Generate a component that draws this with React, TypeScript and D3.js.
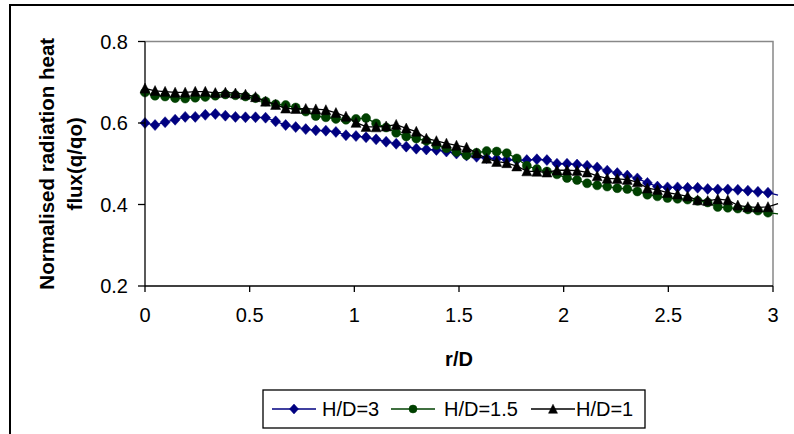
import React from 'react';
import * as d3 from 'd3';

const R_D = [0, 0.048, 0.096, 0.144, 0.192, 0.24, 0.288, 0.336, 0.384, 0.432, 0.48, 0.528, 0.576, 0.624, 0.672, 0.72, 0.768, 0.816, 0.864, 0.912, 0.96, 1.008, 1.056, 1.104, 1.152, 1.2, 1.248, 1.296, 1.344, 1.392, 1.44, 1.488, 1.536, 1.584, 1.632, 1.68, 1.728, 1.776, 1.824, 1.872, 1.92, 1.968, 2.016, 2.064, 2.112, 2.16, 2.208, 2.256, 2.304, 2.352, 2.4, 2.448, 2.496, 2.544, 2.592, 2.64, 2.688, 2.736, 2.784, 2.832, 2.88, 2.928, 2.976, 3.024];

const HD3 = [0.600, 0.595, 0.602, 0.608, 0.615, 0.615, 0.620, 0.622, 0.618, 0.615, 0.614, 0.614, 0.613, 0.604, 0.595, 0.590, 0.585, 0.582, 0.581, 0.578, 0.570, 0.568, 0.565, 0.560, 0.554, 0.549, 0.542, 0.537, 0.535, 0.534, 0.530, 0.525, 0.520, 0.517, 0.514, 0.512, 0.510, 0.509, 0.509, 0.511, 0.509, 0.500, 0.500, 0.498, 0.495, 0.491, 0.483, 0.477, 0.471, 0.464, 0.453, 0.444, 0.442, 0.442, 0.441, 0.441, 0.438, 0.437, 0.437, 0.436, 0.434, 0.431, 0.429, 0.423];

const HD15 = [0.675, 0.667, 0.665, 0.661, 0.660, 0.662, 0.664, 0.667, 0.670, 0.668, 0.665, 0.661, 0.653, 0.646, 0.644, 0.638, 0.628, 0.617, 0.614, 0.610, 0.608, 0.610, 0.612, 0.599, 0.589, 0.576, 0.567, 0.562, 0.556, 0.546, 0.538, 0.529, 0.521, 0.527, 0.531, 0.530, 0.526, 0.513, 0.495, 0.487, 0.481, 0.474, 0.465, 0.460, 0.452, 0.447, 0.444, 0.440, 0.438, 0.432, 0.424, 0.420, 0.416, 0.414, 0.412, 0.409, 0.405, 0.394, 0.392, 0.390, 0.388, 0.385, 0.380, 0.377];

const HD1 = [0.685, 0.679, 0.677, 0.675, 0.675, 0.677, 0.677, 0.674, 0.675, 0.673, 0.670, 0.664, 0.653, 0.645, 0.636, 0.635, 0.635, 0.634, 0.632, 0.625, 0.616, 0.601, 0.591, 0.590, 0.592, 0.596, 0.587, 0.579, 0.562, 0.556, 0.550, 0.545, 0.540, 0.526, 0.513, 0.505, 0.502, 0.494, 0.482, 0.481, 0.479, 0.484, 0.484, 0.483, 0.479, 0.470, 0.464, 0.463, 0.461, 0.455, 0.440, 0.436, 0.429, 0.425, 0.420, 0.411, 0.409, 0.413, 0.411, 0.398, 0.394, 0.393, 0.394, 0.402];

const X_TICKS = [0, 0.5, 1, 1.5, 2, 2.5, 3];
const Y_TICKS = [0.2, 0.4, 0.6, 0.8];
const SERIES_NAMES = ['H/D=3', 'H/D=1.5', 'H/D=1'];
const SERIES_COLORS = ['#000080', '#004000', '#000000'];
const SERIES_MARKERS = ['diamond', 'circle', 'triangle'];
const SERIES_VALUES = [HD3, HD15, HD1];

const FONT = 'Arial, "Liberation Sans", Helvetica, sans-serif';

function markerPath(kind: string, cx: number, cy: number, s: number): string {
  if (kind === 'diamond') {
    const w = s / 2, h = s / 2 + 0.5;
    return `M${cx},${cy - h}L${cx + w},${cy}L${cx},${cy + h}L${cx - w},${cy}Z`;
  }
  if (kind === 'triangle') {
    const w = s / 2, h = s * 0.95;
    return `M${cx},${cy - h / 2 - 0.5}L${cx + w},${cy + h / 2}L${cx - w},${cy + h / 2}Z`;
  }
  const r = s / 2 - 0.5;
  return `M${cx - r},${cy}A${r},${r} 0 1,0 ${cx + r},${cy}A${r},${r} 0 1,0 ${cx - r},${cy}Z`;
}

export default function App() {
  const W = 794, H = 434;
  const x = d3.scaleLinear().domain([0, 3]).range([145, 773]);
  const y = d3.scaleLinear().domain([0.2, 0.8]).range([286, 41.5]);
  const [x0, x1] = x.range();
  const [yb, yt] = y.range();

  const line = d3.line<number>()
    .x((_, i) => x(R_D[i]))
    .y((v) => y(v));

  const legendItems = [
    { sx: 272, tx: 322 },
    { sx: 391, tx: 444 },
    { sx: 531, tx: 576 },
  ];
  const ly = 409;

  return (
    <svg width={W} height={H} style={{ position: 'absolute', left: 0, top: 0, background: '#fff' }} fontFamily={FONT}>
      <rect x={0} y={0} width={W} height={H} fill="#fff" />
      <rect x={10} y={5} width={800} height={460} fill="none" stroke="#000" strokeWidth={2} />
      {/* plot area border */}
      <path d={`M${x0},${yt}H${x1}V${yb}`} fill="none" stroke="#888" strokeWidth={1.5} />
      {/* series */}
      {SERIES_VALUES.map((vals, si) => (
        <g key={si}>
          <path d={line(vals) || ''} fill="none" stroke={SERIES_COLORS[si]} strokeWidth={1.3} />
          {vals.map((v, i) => R_D[i] <= 3 ? (
            <path key={i} d={markerPath(SERIES_MARKERS[si], x(R_D[i]), y(v), 10)} fill={SERIES_COLORS[si]} stroke={SERIES_COLORS[si]} strokeWidth={0.5} />
          ) : null)}
        </g>
      ))}
      {/* axes */}
      <line x1={x0} x2={x0} y1={yt} y2={yb} stroke="#000" strokeWidth={1.3} />
      <line x1={x0} x2={x1} y1={yb} y2={yb} stroke="#000" strokeWidth={1.3} />
      {Y_TICKS.map((t) => (
        <g key={'y' + t}>
          <line x1={x0 - 7} x2={x0} y1={y(t)} y2={y(t)} stroke="#000" strokeWidth={1.3} />
          <text x={128} y={y(t)} dy="0.35em" textAnchor="end" fontSize={20} fill="#000">{String(t)}</text>
        </g>
      ))}
      {X_TICKS.map((t) => (
        <g key={'x' + t}>
          <line x1={x(t)} x2={x(t)} y1={yb} y2={yb + 6} stroke="#000" strokeWidth={1.3} />
          <text x={x(t)} y={322} textAnchor="middle" fontSize={20} fill="#000">{String(t)}</text>
        </g>
      ))}
      {/* axis titles */}
      <text x={(x0 + x1) / 2} y={366} textAnchor="middle" fontSize={20} fontWeight="bold" fill="#000">r/D</text>
      <g transform={`translate(47,${(yt + yb) / 2}) rotate(-90)`}>
        <text x={0} y={0} dy="0.35em" textAnchor="middle" fontSize={20.5} fontWeight="bold" fill="#000">Normalised radiation heat</text>
      </g>
      <g transform={`translate(75,${(yt + yb) / 2}) rotate(-90)`}>
        <text x={0} y={0} dy="0.35em" textAnchor="middle" fontSize={20.5} fontWeight="bold" fill="#000">flux(q/qo)</text>
      </g>
      {/* legend */}
      <rect x={263} y={390} width={382} height={38} fill="#fff" stroke="#000" strokeWidth={1.3} />
      {legendItems.map((it, si) => (
        <g key={'l' + si}>
          <line x1={it.sx} x2={it.sx + 44} y1={ly} y2={ly} stroke={SERIES_COLORS[si]} strokeWidth={1.3} />
          <path d={markerPath(SERIES_MARKERS[si], it.sx + 22, ly, 9)} fill={SERIES_COLORS[si]} stroke={SERIES_COLORS[si]} strokeWidth={0.5} />
          <text x={it.tx} y={ly} dy="0.35em" fontSize={20} fill="#000">{SERIES_NAMES[si]}</text>
        </g>
      ))}
    </svg>
  );
}
